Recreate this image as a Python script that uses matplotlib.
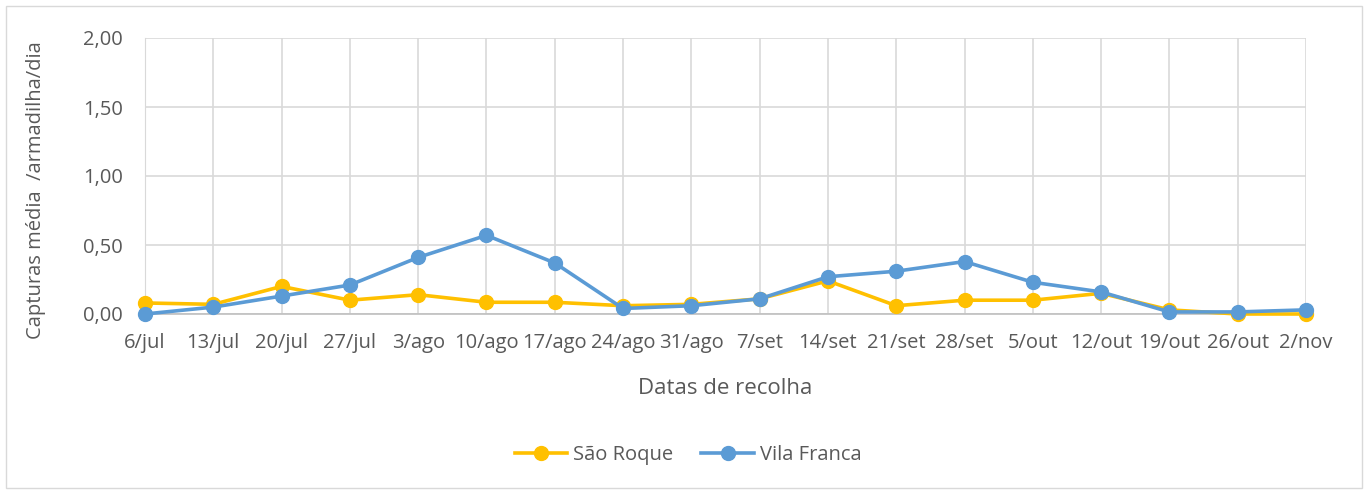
import matplotlib
matplotlib.use("Agg")
import matplotlib.pyplot as plt
from matplotlib.ticker import FuncFormatter
from matplotlib.patches import Rectangle

categories = ["6/jul", "13/jul", "20/jul", "27/jul", "3/ago", "10/ago", "17/ago", "24/ago", "31/ago",
              "7/set", "14/set", "21/set", "28/set", "5/out", "12/out", "19/out", "26/out", "2/nov"]
sao_roque = [0.08, 0.07, 0.20, 0.10, 0.14, 0.085, 0.085, 0.06, 0.07, 0.11, 0.24, 0.06, 0.10, 0.10, 0.15, 0.03, 0.00, 0.00]
vila_franca = [0.00, 0.05, 0.13, 0.21, 0.41, 0.57, 0.37, 0.04, 0.06, 0.11, 0.27, 0.31, 0.38, 0.23, 0.16, 0.015, 0.015, 0.03]
y_ticks = [0, 0.5, 1.0, 1.5, 2.0]

plt.rcParams['font.family'] = ['Open Sans', 'DejaVu Sans']
txt = '#595959'

fig = plt.figure(figsize=(13.67, 4.93), dpi=100)
ax = fig.add_axes([145/1367, 1-314/493, (1306-145)/1367, (314-38)/493])

x = list(range(len(categories)))
ax.plot(x, sao_roque, color='#FFC000', lw=2.6, marker='o', ms=10, label='São Roque', zorder=3)
ax.plot(x, vila_franca, color='#5B9BD5', lw=2.6, marker='o', ms=10, label='Vila Franca', zorder=4)

ax.set_xlim(0, len(categories)-1)
ax.set_ylim(0, 2)
ax.set_yticks(y_ticks)
ax.yaxis.set_major_formatter(FuncFormatter(lambda v, p: f"{v:.2f}".replace('.', ',')))
ax.set_xticks(x)
ax.set_xticklabels(categories)
ax.grid(True, color='#D9D9D9', lw=1.2, zorder=0)
ax.set_axisbelow(True)
for s in ['top', 'right']:
    ax.spines[s].set_visible(False)
ax.spines['left'].set_color('#D9D9D9')
ax.spines['bottom'].set_color('#BFBFBF')
ax.spines['bottom'].set_linewidth(1.2)
ax.tick_params(length=0, labelsize=14.5, colors=txt)
ax.tick_params(axis='x', pad=14)
ax.tick_params(axis='y', pad=16)
for l in ax.lines:
    l.set_clip_on(False)

ax.set_xlabel('Datas de recolha', fontsize=16, color=txt, labelpad=18)
ax.set_ylabel('Capturas média  /armadilha/dia', fontsize=14.5, color=txt)
ax.yaxis.set_label_coords(-(145-46)/1161, 0.45)

fig.legend(loc='center', bbox_to_anchor=(688/1367, 1-455/493), ncol=2, frameon=False,
           fontsize=14.5, labelcolor=txt, handlelength=2.6, columnspacing=1.4, handletextpad=0.3)

fig.patches.append(Rectangle((6/1367, 5/493), 1356/1367, 482/493, transform=fig.transFigure,
                             fill=False, edgecolor='#D9D9D9', lw=1))

fig.savefig('out.png', dpi=100)
